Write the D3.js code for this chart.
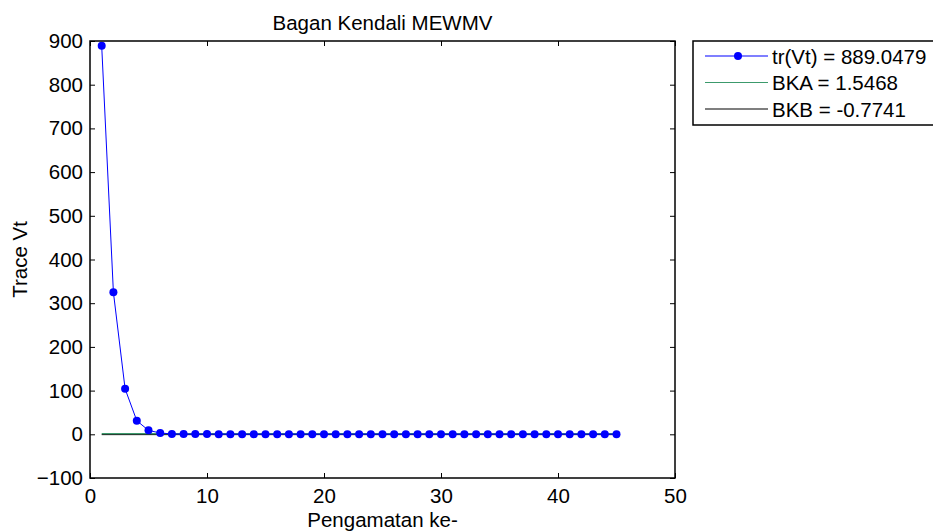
<!DOCTYPE html>
<html>
<head>
<meta charset="utf-8">
<script src="https://cdn.jsdelivr.net/npm/d3@7"></script>
<style>
  body { margin: 0; background: #fff; }
  svg { font-family: "Liberation Sans", Arial, sans-serif; }
</style>
</head>
<body>
<div id="chart"></div>
<script>
// observations 1..45
const trace = [889.0479, 325, 104, 31, 9, 3, 0.8, 0.6, 0.5, 0.5,
    0.4, 0.4, 0.4, 0.4, 0.4, 0.4, 0.4, 0.4, 0.4, 0.4,
    0.4, 0.4, 0.4, 0.4, 0.4, 0.4, 0.4, 0.4, 0.4, 0.4,
    0.4, 0.4, 0.4, 0.4, 0.4, 0.4, 0.4, 0.4, 0.4, 0.4,
    0.4, 0.4, 0.4, 0.4, 0.4];
const bka = 1.5468;
const bkb = -0.7741;
const xTicks = [0, 10, 20, 30, 40, 50];
const yTicks = [-100, 0, 100, 200, 300, 400, 500, 600, 700, 800, 900];
const legendLabels = ['tr(Vt) = 889.0479', 'BKA = 1.5468', 'BKB = -0.7741'];

const width = 933, height = 532;
const margin = { top: 41, right: 258, bottom: 54, left: 90 };
const fs = 20.5;

const svg = d3.select('#chart').append('svg')
    .attr('width', width)
    .attr('height', height);

const x = d3.scaleLinear().domain([0, 50]).range([margin.left, width - margin.right]);
const y = d3.scaleLinear().domain([-100, 900]).range([height - margin.bottom, margin.top]);

const points = trace.map((v, i) => ({ obs: i + 1, v }));
const first = 1, last = trace.length;

// limits
svg.append('line')
    .attr('x1', x(first)).attr('x2', x(last))
    .attr('y1', y(bkb)).attr('y2', y(bkb))
    .attr('stroke', '#000').attr('stroke-width', 1);
svg.append('line')
    .attr('x1', x(first)).attr('x2', x(last))
    .attr('y1', y(bka)).attr('y2', y(bka))
    .attr('stroke', '#3c9a6c').attr('stroke-width', 1.2);

// trace line + markers
svg.append('path')
    .datum(points)
    .attr('fill', 'none')
    .attr('stroke', '#0000ff')
    .attr('stroke-width', 1)
    .attr('d', d3.line().x(d => x(d.obs)).y(d => y(d.v)));

svg.selectAll('circle.pt')
    .data(points)
    .join('circle')
    .attr('class', 'pt')
    .attr('cx', d => x(d.obs))
    .attr('cy', d => y(d.v))
    .attr('r', 4)
    .attr('fill', '#0000ff');

// axes with inward ticks on all four sides
const tickLen = 5;
svg.append('g')
    .attr('transform', `translate(0,${y(-100)})`)
    .call(d3.axisBottom(x).tickValues(xTicks).tickSize(-tickLen).tickPadding(10).tickFormat(d3.format('d')))
    .call(g => g.select('.domain').remove());
svg.append('g')
    .attr('transform', `translate(0,${y(900)})`)
    .call(d3.axisTop(x).tickValues(xTicks).tickSize(-tickLen).tickFormat(''))
    .call(g => g.select('.domain').remove());
svg.append('g')
    .attr('transform', `translate(${x(0)},0)`)
    .call(d3.axisLeft(y).tickValues(yTicks).tickSize(-tickLen).tickPadding(7))
    .call(g => g.select('.domain').remove());
svg.append('g')
    .attr('transform', `translate(${x(50)},0)`)
    .call(d3.axisRight(y).tickValues(yTicks).tickSize(-tickLen).tickFormat(''))
    .call(g => g.select('.domain').remove());

svg.selectAll('.tick text')
    .attr('font-size', fs)
    .attr('font-family', '"Liberation Sans", Arial, sans-serif')
    .attr('fill', '#000');
svg.selectAll('.tick line').attr('stroke', '#000');

// box
svg.append('rect')
    .attr('x', x(0)).attr('y', y(900))
    .attr('width', x(50) - x(0)).attr('height', y(-100) - y(900))
    .attr('fill', 'none').attr('stroke', '#000').attr('stroke-width', 1.5);

// title and labels
svg.append('text')
    .attr('x', (x(0) + x(50)) / 2).attr('y', 30)
    .attr('text-anchor', 'middle')
    .attr('font-size', fs)
    .text('Bagan Kendali MEWMV');
svg.append('text')
    .attr('x', (x(0) + x(50)) / 2).attr('y', 527)
    .attr('text-anchor', 'middle')
    .attr('font-size', fs)
    .text('Pengamatan ke-');
svg.append('text')
    .attr('transform', `translate(27,${(y(900) + y(-100)) / 2}) rotate(-90)`)
    .attr('text-anchor', 'middle')
    .attr('font-size', fs)
    .text('Trace Vt');

// legend
const lg = svg.append('g').attr('transform', 'translate(693,41)');
lg.append('rect')
    .attr('x', 0).attr('y', 0)
    .attr('width', 260).attr('height', 84)
    .attr('fill', '#fff').attr('stroke', '#000').attr('stroke-width', 1.5);
const legendColors = ['#0000ff', '#3c9a6c', '#000'];
legendLabels.forEach((lab, i) => {
    const yy = 15 + i * 26.5;
    lg.append('line')
        .attr('x1', 12).attr('x2', 75)
        .attr('y1', yy).attr('y2', yy)
        .attr('stroke', legendColors[i]).attr('stroke-width', 1.2);
    if (i === 0) {
        lg.append('circle').attr('cx', 45).attr('cy', yy).attr('r', 4).attr('fill', '#0000ff');
    }
    lg.append('text')
        .attr('x', 79).attr('y', yy + 7.5)
        .attr('font-size', fs)
        .text(lab);
});
</script>
</body>
</html>
